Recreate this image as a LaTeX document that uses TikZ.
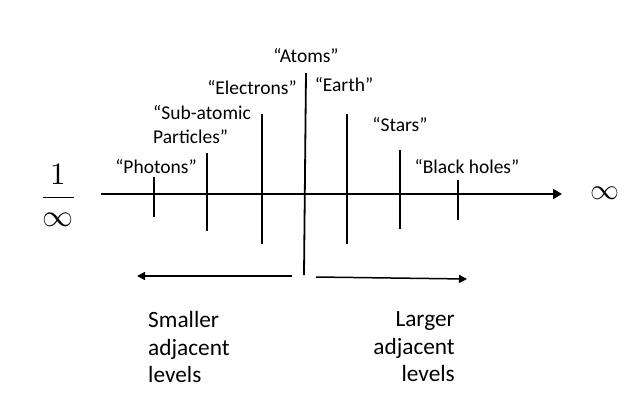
\documentclass[tikz,border=0pt]{standalone}
\usepackage{fontspec}
\usepackage{unicode-math}
\setmainfont{Carlito}
\usetikzlibrary{arrows.meta}

\begin{document}
\begin{tikzpicture}[x=1pt,y=-1pt,
  lbl/.style={font=\fontsize{19.5}{24}\selectfont},
  big/.style={font=\fontsize{23.3}{27.5}\selectfont},
  tick/.style={line width=1.8pt},
  tip/.style={-{Triangle[length=9pt,width=10pt]}}]
\useasboundingbox (0,0) rectangle (641,416);

\node(frac) at(58,195){\fontsize{31}{34}\selectfont$\displaystyle\frac{1}{\infty}$};
\node(inf) at(605,193){\fontsize{29}{32}\selectfont$\infty$};

\coordinate(a0) at(101,194);
\coordinate(a1) at(562,194);
\draw [tip,line width=2pt] (a0) -- (a1);

\coordinate(ph1) at(154,177); \coordinate(ph2) at(154,217);
\coordinate(sa1) at(207,153); \coordinate(sa2) at(207,231);
\coordinate(el1) at(262,114); \coordinate(el2) at(262,244);
\coordinate(at1) at(306,73);  \coordinate(at2) at(304,275);
\coordinate(ea1) at(347,114); \coordinate(ea2) at(347,244);
\coordinate(st1) at(400,150); \coordinate(st2) at(400,229);
\coordinate(bh1) at(458,180); \coordinate(bh2) at(458,220);

\draw [tick] (ph1) -- (ph2);
\draw [tick] (sa1) -- (sa2);
\draw [tick] (el1) -- (el2);
\draw [tick] (at1) -- (at2);
\draw [tick] (ea1) -- (ea2);
\draw [tick] (st1) -- (st2);
\draw [tick] (bh1) -- (bh2);

\node[lbl](p) at(156,167){“Photons”};
\node[lbl,anchor=west,align=left,inner sep=0pt](s) at(153,125){“Sub-atomic\\Particles”};
\node[lbl](e) at(252,88){“Electrons”};
\node[lbl](a) at(306,56){“Atoms”};
\node[lbl](r) at(344,85){“Earth”};
\node[lbl](t) at(400,125){“Stars”};
\node[lbl](b) at(467,167){“Black holes”};

\coordinate(l0) at(292,276); \coordinate(l1) at(137,276);
\coordinate(r0) at(316,277); \coordinate(r1) at(467,279);
\draw [-{Triangle[length=8pt,width=8pt]},line width=1.5pt] (l0) -- (l1);
\draw [-{Triangle[length=8pt,width=8pt]},line width=1.5pt] (r0) -- (r1);

\node[big,anchor=west,align=left,inner sep=0pt](sm) at(148,347){Smaller\\adjacent\\levels};
\node[big,anchor=east,align=right,inner sep=0pt](lg) at(455,347){Larger\\adjacent\\levels};
\end{tikzpicture}
\end{document}
